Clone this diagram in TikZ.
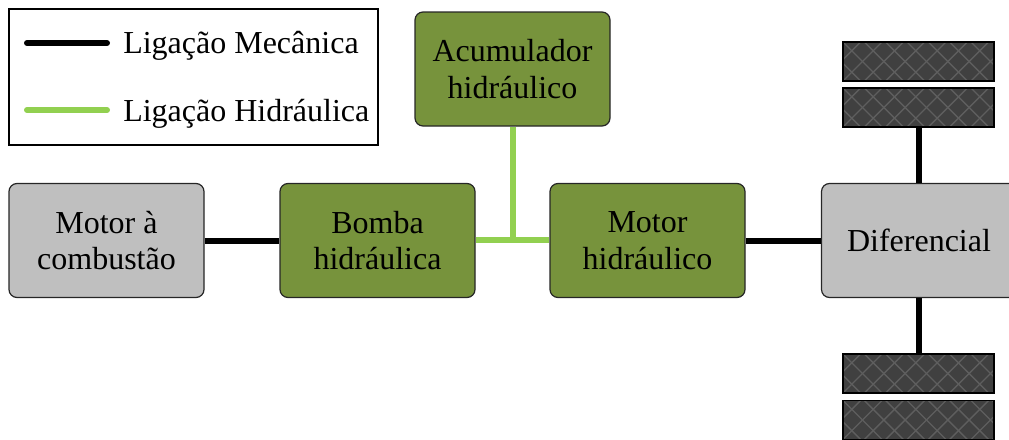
\documentclass[tikz,border=0pt]{standalone}
\usepackage{fontspec}
\setmainfont{Liberation Serif}
\usetikzlibrary{calc}
\definecolor{boxgreen}{HTML}{77933C}
\definecolor{boxgray}{HTML}{BFBFBF}
\definecolor{hydgreen}{HTML}{92D050}
\definecolor{wheelfill}{HTML}{404040}
\definecolor{wheelhatch}{HTML}{5E5E5E}
\tikzset{
  blockbox/.style={draw=black!85, line width=0.9pt, rounded corners=6pt, minimum width=146.25pt, minimum height=85.5pt, align=center, inner sep=2pt, font=\fontsize{24}{27.6}\selectfont},
  graybox/.style={blockbox, fill=boxgray},
  greenbox/.style={blockbox, fill=boxgreen},
  mech/.style={line width=4.5pt, black},
  hyd/.style={line width=4.5pt, hydgreen},
  hatchline/.style={draw=wheelhatch, line width=1pt},
  wheel/.style={draw=black, line width=1.3pt, fill=wheelfill, minimum width=113.25pt, minimum height=29.25pt, inner sep=0pt,
    path picture={
      \foreach \k in {0,...,10}{
        \draw[hatchline] ([xshift=\k*16pt-32pt]path picture bounding box.north west) -- ++(32pt,-32pt);
        \draw[hatchline] ([xshift=\k*16pt-32pt]path picture bounding box.south west) -- ++(32pt,32pt);
      }
    }},
  legtext/.style={anchor=base west, inner sep=0pt, font=\fontsize{24}{27.6}\selectfont}
}
\begin{document}
\begin{tikzpicture}[x=0.75pt, y=-0.75pt]
\useasboundingbox (0,0) rectangle (1009,439);
\clip (0,0) rectangle (1009,439);
% legend
\draw[line width=1.2pt, black] (9,9) rectangle (378,145);
\coordinate (l1a) at (27,43);
\coordinate (l1b) at (107,43);
\coordinate (l2a) at (27,110);
\coordinate (l2b) at (107,110);
\draw[mech, line cap=round] (l1a) -- (l1b);
\draw[hyd, line cap=round] (l2a) -- (l2b);
\node[legtext] (t1) at (123,53) {Ligação Mecânica};
\node[legtext] (t2) at (123,121) {Ligação Hidráulica};
% blocks
\node[graybox] (comb) at (106.5,240.5) {Motor à\\combustão};
\node[greenbox] (bomba) at (377.5,240.5) {Bomba\\hidráulica};
\node[greenbox] (mhid) at (647.5,240.5) {Motor\\hidráulico};
\node[greenbox] (acc) at (512.5,69) {Acumulador\\hidráulico};
\node[graybox] (dif) at (919,240.5) {Diferencial};
% wheels
\node[wheel] (w1) at (918.5,61.5) {};
\node[wheel] (w2) at (918.5,107.5) {};
\node[wheel] (w3) at (918.5,373.5) {};
\node[wheel] (w4) at (918.5,420) {};
% connectors
\draw[mech] (comb.east) -- (bomba.west);
\draw[mech] (mhid.east) -- (dif.west);
\draw[hyd] ([yshift=0.75pt]bomba.east) -- ([yshift=0.75pt]mhid.west);
\draw[hyd] (acc.south) -- ($(acc.south |- bomba.east)+(0,-1.5pt)$);
\draw[mech] (w2.south) -- (w2.south |- dif.north);
\draw[mech] (w3.north |- dif.south) -- (w3.north);
\end{tikzpicture}
\end{document}
